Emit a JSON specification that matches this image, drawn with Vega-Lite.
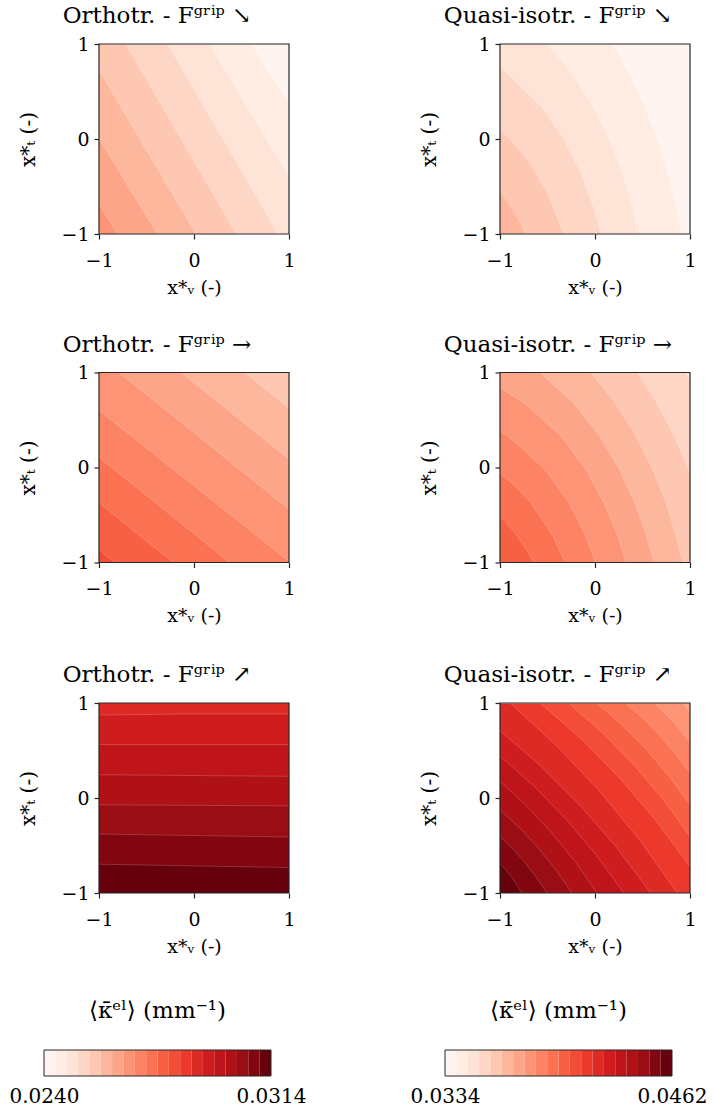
{
"$schema": "https://vega.github.io/schema/vega-lite/v6.json",
"background": "white",
"padding": {"left": 9, "top": 5, "right": 0, "bottom": 0},
"config": {
  "font": "DejaVu Serif",
  "view": {"stroke": null},
  "axis": {"labelFont": "DejaVu Serif", "titleFont": "DejaVu Serif", "labelFontSize": 19, "titleFontSize": 19, "titleFontWeight": "normal", "labelColor": "#000", "titleColor": "#000", "tickColor": "#262626", "tickSize": 5, "tickWidth": 1.2, "domain": false, "grid": false, "labelFlush": false, "labelOverlap": false},
  "axisX": {"labelPadding": 12, "titlePadding": 8},
  "axisY": {"labelPadding": 5, "titlePadding": 22, "titleFontSize": 20},
  "title": {"font": "DejaVu Serif", "fontSize": 23, "fontWeight": "normal", "color": "#000", "offset": 7},
  "line": {"strokeCap": "butt"}
},
"datasets": {
"cont": [
{"p":"o1","b":0,"x":-1,"y":1},{"p":"o1","b":0,"x":1,"y":1},
{"p":"o1","b":1,"x":-1,"y":1},{"p":"o1","b":1,"x":0.602,"y":1},{"p":"o1","b":1,"x":1,"y":0.371},
{"p":"o1","b":2,"x":-1,"y":1},{"p":"o1","b":2,"x":0.162,"y":1},{"p":"o1","b":2,"x":1,"y":-0.406},
{"p":"o1","b":3,"x":-1,"y":1},{"p":"o1","b":3,"x":-0.278,"y":1},{"p":"o1","b":3,"x":0.884,"y":-1},
{"p":"o1","b":4,"x":-1,"y":1},{"p":"o1","b":4,"x":-0.718,"y":1},{"p":"o1","b":4,"x":0.444,"y":-1},
{"p":"o1","b":5,"x":-1,"y":0.724},{"p":"o1","b":5,"x":0.021,"y":-1},
{"p":"o1","b":6,"x":-1,"y":0.0},{"p":"o1","b":6,"x":-0.384,"y":-1},
{"p":"o1","b":7,"x":-1,"y":-0.689},{"p":"o1","b":7,"x":-0.806,"y":-1},

{"p":"o2","b":4,"x":-1,"y":1},{"p":"o2","b":4,"x":1,"y":1},
{"p":"o2","b":5,"x":-1,"y":1},{"p":"o2","b":5,"x":0.532,"y":1},{"p":"o2","b":5,"x":1,"y":0.625},
{"p":"o2","b":6,"x":-1,"y":1},{"p":"o2","b":6,"x":-0.137,"y":1},{"p":"o2","b":6,"x":1,"y":0.088},
{"p":"o2","b":7,"x":-1,"y":1},{"p":"o2","b":7,"x":-0.789,"y":1},{"p":"o2","b":7,"x":1,"y":-0.442},
{"p":"o2","b":8,"x":-1,"y":0.601},{"p":"o2","b":8,"x":1,"y":-0.989},
{"p":"o2","b":9,"x":-1,"y":0.106},{"p":"o2","b":9,"x":0.377,"y":-1},
{"p":"o2","b":10,"x":-1,"y":-0.371},{"p":"o2","b":10,"x":-0.218,"y":-1},
{"p":"o2","b":11,"x":-1,"y":-0.866},{"p":"o2","b":11,"x":-0.835,"y":-1},

{"p":"o3","b":13,"x":-1,"y":1},{"p":"o3","b":13,"x":1,"y":1},
{"p":"o3","b":14,"x":-1,"y":0.873},{"p":"o3","b":14,"x":0,"y":0.885},{"p":"o3","b":14,"x":1,"y":0.884},
{"p":"o3","b":15,"x":-1,"y":0.563},{"p":"o3","b":15,"x":1,"y":0.563},
{"p":"o3","b":16,"x":-1,"y":0.245},{"p":"o3","b":16,"x":1,"y":0.228},
{"p":"o3","b":17,"x":-1,"y":-0.072},{"p":"o3","b":17,"x":1,"y":-0.083},
{"p":"o3","b":18,"x":-1,"y":-0.379},{"p":"o3","b":18,"x":1,"y":-0.411},
{"p":"o3","b":19,"x":-1,"y":-0.697},{"p":"o3","b":19,"x":0,"y":-0.715},{"p":"o3","b":19,"x":1,"y":-0.732},

{"p":"q1","b":0,"x":-1,"y":1},{"p":"q1","b":0,"x":1,"y":1},
{"p":"q1","b":1,"x":-1,"y":1},{"p":"q1","b":1,"x":0.183,"y":1},{"p":"q1","b":1,"x":0.361,"y":0.689},{"p":"q1","b":1,"x":0.527,"y":0.336},{"p":"q1","b":1,"x":0.662,"y":-0.018},{"p":"q1","b":1,"x":0.770,"y":-0.371},{"p":"q1","b":1,"x":0.856,"y":-0.724},{"p":"q1","b":1,"x":0.907,"y":-1},
{"p":"q1","b":2,"x":-1,"y":1},{"p":"q1","b":2,"x":-0.506,"y":1},{"p":"q1","b":2,"x":-0.243,"y":0.689},{"p":"q1","b":2,"x":-0.018,"y":0.336},{"p":"q1","b":2,"x":0.156,"y":-0.018},{"p":"q1","b":2,"x":0.292,"y":-0.371},{"p":"q1","b":2,"x":0.396,"y":-0.724},{"p":"q1","b":2,"x":0.459,"y":-1},
{"p":"q1","b":3,"x":-1,"y":0.740},{"p":"q1","b":3,"x":-0.927,"y":0.689},{"p":"q1","b":3,"x":-0.563,"y":0.336},{"p":"q1","b":3,"x":-0.320,"y":-0.018},{"p":"q1","b":3,"x":-0.144,"y":-0.371},{"p":"q1","b":3,"x":-0.013,"y":-0.724},{"p":"q1","b":3,"x":0.064,"y":-1},
{"p":"q1","b":4,"x":-1,"y":0.094},{"p":"q1","b":4,"x":-0.882,"y":-0.018},{"p":"q1","b":4,"x":-0.733,"y":-0.194},{"p":"q1","b":4,"x":-0.614,"y":-0.371},{"p":"q1","b":4,"x":-0.516,"y":-0.548},{"p":"q1","b":4,"x":-0.435,"y":-0.724},{"p":"q1","b":4,"x":-0.335,"y":-1},
{"p":"q1","b":5,"x":-1,"y":-0.555},{"p":"q1","b":5,"x":-0.937,"y":-0.636},{"p":"q1","b":5,"x":-0.877,"y":-0.724},{"p":"q1","b":5,"x":-0.796,"y":-0.866},{"p":"q1","b":5,"x":-0.732,"y":-1},

{"p":"q2","b":2,"x":-1,"y":1},{"p":"q2","b":2,"x":1,"y":1},
{"p":"q2","b":3,"x":-1,"y":1},{"p":"q2","b":3,"x":0.953,"y":1},{"p":"q2","b":3,"x":1,"y":0.916},
{"p":"q2","b":4,"x":-1,"y":1},{"p":"q2","b":4,"x":0.444,"y":1},{"p":"q2","b":4,"x":0.644,"y":0.689},{"p":"q2","b":4,"x":0.831,"y":0.336},{"p":"q2","b":4,"x":0.982,"y":-0.018},{"p":"q2","b":4,"x":1,"y":-0.065},
{"p":"q2","b":5,"x":-1,"y":1},{"p":"q2","b":5,"x":-0.047,"y":1},{"p":"q2","b":5,"x":0.204,"y":0.689},{"p":"q2","b":5,"x":0.429,"y":0.336},{"p":"q2","b":5,"x":0.606,"y":-0.018},{"p":"q2","b":5,"x":0.746,"y":-0.371},{"p":"q2","b":5,"x":0.855,"y":-0.724},{"p":"q2","b":5,"x":0.921,"y":-1},
{"p":"q2","b":6,"x":-1,"y":1},{"p":"q2","b":6,"x":-0.581,"y":1},{"p":"q2","b":6,"x":-0.237,"y":0.689},{"p":"q2","b":6,"x":0.044,"y":0.336},{"p":"q2","b":6,"x":0.256,"y":-0.018},{"p":"q2","b":6,"x":0.419,"y":-0.371},{"p":"q2","b":6,"x":0.544,"y":-0.724},{"p":"q2","b":6,"x":0.618,"y":-1},
{"p":"q2","b":7,"x":-1,"y":0.836},{"p":"q2","b":7,"x":-0.757,"y":0.689},{"p":"q2","b":7,"x":-0.365,"y":0.336},{"p":"q2","b":7,"x":-0.100,"y":-0.018},{"p":"q2","b":7,"x":0.095,"y":-0.371},{"p":"q2","b":7,"x":0.240,"y":-0.724},{"p":"q2","b":7,"x":0.326,"y":-1},
{"p":"q2","b":8,"x":-1,"y":0.384},{"p":"q2","b":8,"x":-0.923,"y":0.336},{"p":"q2","b":8,"x":-0.529,"y":-0.018},{"p":"q2","b":8,"x":-0.275,"y":-0.371},{"p":"q2","b":8,"x":-0.097,"y":-0.724},{"p":"q2","b":8,"x":0.005,"y":-1},
{"p":"q2","b":9,"x":-1,"y":-0.063},{"p":"q2","b":9,"x":-0.841,"y":-0.194},{"p":"q2","b":9,"x":-0.676,"y":-0.371},{"p":"q2","b":9,"x":-0.442,"y":-0.724},{"p":"q2","b":9,"x":-0.314,"y":-1},
{"p":"q2","b":10,"x":-1,"y":-0.519},{"p":"q2","b":10,"x":-0.903,"y":-0.618},{"p":"q2","b":10,"x":-0.816,"y":-0.724},{"p":"q2","b":10,"x":-0.720,"y":-0.866},{"p":"q2","b":10,"x":-0.644,"y":-1},

{"p":"q3","b":6,"x":-1,"y":1},{"p":"q3","b":6,"x":1,"y":1},
{"p":"q3","b":7,"x":-1,"y":1},{"p":"q3","b":7,"x":0.919,"y":1},{"p":"q3","b":7,"x":1,"y":0.908},
{"p":"q3","b":8,"x":-1,"y":1},{"p":"q3","b":8,"x":0.620,"y":1},{"p":"q3","b":8,"x":0.825,"y":0.806},{"p":"q3","b":8,"x":1,"y":0.583},
{"p":"q3","b":9,"x":-1,"y":1},{"p":"q3","b":9,"x":0.320,"y":1},{"p":"q3","b":9,"x":0.509,"y":0.833},{"p":"q3","b":9,"x":0.685,"y":0.654},{"p":"q3","b":9,"x":0.849,"y":0.462},{"p":"q3","b":9,"x":1,"y":0.258},
{"p":"q3","b":10,"x":-1,"y":1},{"p":"q3","b":10,"x":0.021,"y":1},{"p":"q3","b":10,"x":0.294,"y":0.760},{"p":"q3","b":10,"x":0.548,"y":0.502},{"p":"q3","b":10,"x":0.783,"y":0.225},{"p":"q3","b":10,"x":1,"y":-0.071},
{"p":"q3","b":11,"x":-1,"y":1},{"p":"q3","b":11,"x":-0.278,"y":1},{"p":"q3","b":11,"x":0.079,"y":0.686},{"p":"q3","b":11,"x":0.411,"y":0.347},{"p":"q3","b":11,"x":0.718,"y":-0.017},{"p":"q3","b":11,"x":1,"y":-0.406},
{"p":"q3","b":12,"x":-1,"y":1},{"p":"q3","b":12,"x":-0.577,"y":1},{"p":"q3","b":12,"x":-0.138,"y":0.614},{"p":"q3","b":12,"x":0.271,"y":0.198},{"p":"q3","b":12,"x":0.650,"y":-0.248},{"p":"q3","b":12,"x":1,"y":-0.724},
{"p":"q3","b":13,"x":-1,"y":1},{"p":"q3","b":13,"x":-0.894,"y":1},{"p":"q3","b":13,"x":-0.404,"y":0.551},{"p":"q3","b":13,"x":0.053,"y":0.067},{"p":"q3","b":13,"x":0.476,"y":-0.449},{"p":"q3","b":13,"x":0.866,"y":-1},
{"p":"q3","b":14,"x":-1,"y":0.707},{"p":"q3","b":14,"x":-0.559,"y":0.325},{"p":"q3","b":14,"x":-0.148,"y":-0.087},{"p":"q3","b":14,"x":0.233,"y":-0.528},{"p":"q3","b":14,"x":0.585,"y":-1},
{"p":"q3","b":15,"x":-1,"y":0.442},{"p":"q3","b":15,"x":-0.637,"y":0.119},{"p":"q3","b":15,"x":-0.299,"y":-0.229},{"p":"q3","b":15,"x":0.014,"y":-0.602},{"p":"q3","b":15,"x":0.303,"y":-1},
{"p":"q3","b":16,"x":-1,"y":0.177},{"p":"q3","b":16,"x":-0.715,"y":-0.088},{"p":"q3","b":16,"x":-0.450,"y":-0.372},{"p":"q3","b":16,"x":-0.204,"y":-0.676},{"p":"q3","b":16,"x":0.021,"y":-1},
{"p":"q3","b":17,"x":-1,"y":-0.124},{"p":"q3","b":17,"x":-0.788,"y":-0.320},{"p":"q3","b":17,"x":-0.592,"y":-0.532},{"p":"q3","b":17,"x":-0.410,"y":-0.758},{"p":"q3","b":17,"x":-0.243,"y":-1},
{"p":"q3","b":18,"x":-1,"y":-0.406},{"p":"q3","b":18,"x":-0.862,"y":-0.540},{"p":"q3","b":18,"x":-0.733,"y":-0.683},{"p":"q3","b":18,"x":-0.615,"y":-0.837},{"p":"q3","b":18,"x":-0.507,"y":-1},
{"p":"q3","b":19,"x":-1,"y":-0.689},{"p":"q3","b":19,"x":-0.935,"y":-0.759},{"p":"q3","b":19,"x":-0.876,"y":-0.835},{"p":"q3","b":19,"x":-0.821,"y":-0.915},{"p":"q3","b":19,"x":-0.771,"y":-1}
],
"cbar": [
{"cb":"L","b":0,"lo":0.02400,"hi":0.02437},{"cb":"L","b":1,"lo":0.02437,"hi":0.02474},{"cb":"L","b":2,"lo":0.02474,"hi":0.02511},{"cb":"L","b":3,"lo":0.02511,"hi":0.02548},{"cb":"L","b":4,"lo":0.02548,"hi":0.02585},{"cb":"L","b":5,"lo":0.02585,"hi":0.02622},{"cb":"L","b":6,"lo":0.02622,"hi":0.02659},{"cb":"L","b":7,"lo":0.02659,"hi":0.02696},{"cb":"L","b":8,"lo":0.02696,"hi":0.02733},{"cb":"L","b":9,"lo":0.02733,"hi":0.02770},{"cb":"L","b":10,"lo":0.02770,"hi":0.02807},{"cb":"L","b":11,"lo":0.02807,"hi":0.02844},{"cb":"L","b":12,"lo":0.02844,"hi":0.02881},{"cb":"L","b":13,"lo":0.02881,"hi":0.02918},{"cb":"L","b":14,"lo":0.02918,"hi":0.02955},{"cb":"L","b":15,"lo":0.02955,"hi":0.02992},{"cb":"L","b":16,"lo":0.02992,"hi":0.03029},{"cb":"L","b":17,"lo":0.03029,"hi":0.03066},{"cb":"L","b":18,"lo":0.03066,"hi":0.03103},{"cb":"L","b":19,"lo":0.03103,"hi":0.03140},
{"cb":"R","b":0,"lo":0.03340,"hi":0.03404},{"cb":"R","b":1,"lo":0.03404,"hi":0.03468},{"cb":"R","b":2,"lo":0.03468,"hi":0.03532},{"cb":"R","b":3,"lo":0.03532,"hi":0.03596},{"cb":"R","b":4,"lo":0.03596,"hi":0.03660},{"cb":"R","b":5,"lo":0.03660,"hi":0.03724},{"cb":"R","b":6,"lo":0.03724,"hi":0.03788},{"cb":"R","b":7,"lo":0.03788,"hi":0.03852},{"cb":"R","b":8,"lo":0.03852,"hi":0.03916},{"cb":"R","b":9,"lo":0.03916,"hi":0.03980},{"cb":"R","b":10,"lo":0.03980,"hi":0.04044},{"cb":"R","b":11,"lo":0.04044,"hi":0.04108},{"cb":"R","b":12,"lo":0.04108,"hi":0.04172},{"cb":"R","b":13,"lo":0.04172,"hi":0.04236},{"cb":"R","b":14,"lo":0.04236,"hi":0.04300},{"cb":"R","b":15,"lo":0.04300,"hi":0.04364},{"cb":"R","b":16,"lo":0.04364,"hi":0.04428},{"cb":"R","b":17,"lo":0.04428,"hi":0.04492},{"cb":"R","b":18,"lo":0.04492,"hi":0.04556},{"cb":"R","b":19,"lo":0.04556,"hi":0.04620}
]
},
"spacing": 43,
"vconcat": [
{"spacing": 36.5, "vconcat": [
{"spacing": 123, "hconcat": [
 {"width":190,"height":190,"title":{"text":"Orthotr. - Fᵍʳⁱᵖ ↘","dx":-37},"data":{"name":"cont"},"transform":[{"filter":"datum.p == 'o1'"}],
  "layer":[
   {"mark":{"type":"area","interpolate":"linear"},"encoding":{
     "x":{"field":"x","type":"quantitative","scale":{"domain":[-1,1],"nice":false,"zero":false},"axis":{"values":[-1,0,1],"format":".0f","title":"x*ᵥ (-)"}},
     "y":{"field":"y","type":"quantitative","scale":{"domain":[-1,1],"nice":false,"zero":false},"axis":{"values":[-1,0,1],"format":".0f","title":"x*ₜ (-)"}},
     "y2":{"datum":-1},
     "color":{"field":"b","type":"ordinal","legend":null,"scale":{"domain":[0,1,2,3,4,5,6,7,8,9,10,11,12,13,14,15,16,17,18,19],"range":["#fff5f0","#ffece3","#fee3d7","#fdd6c5","#fdc7b1","#fcb79c","#fca588","#fc9475","#fc8363","#fb7252","#f86044","#f34c37","#ed392b","#de2a25","#cf1c1f","#bf151a","#af1117","#9b0d14","#810610","#67000d"]}}}},
   {"transform":[{"filter":"datum.b > 0"}],"mark":{"type":"line","stroke":"white","strokeWidth":0.6,"opacity":0.3},"encoding":{"x":{"field":"x","type":"quantitative"},"y":{"field":"y","type":"quantitative"},"detail":{"field":"b","type":"ordinal"}}},
   {"data":{"values":[{}]},"mark":{"type":"rect","fill":null,"stroke":"#262626","strokeWidth":1.2},"encoding":{"x":{"datum":-1},"x2":{"datum":1},"y":{"datum":-1},"y2":{"datum":1}}}
  ]},
 {"width":190,"height":190,"title":{"text":"Quasi-isotr. - Fᵍʳⁱᵖ ↘","dx":-37},"data":{"name":"cont"},"transform":[{"filter":"datum.p == 'q1'"}],
  "layer":[
   {"mark":{"type":"area","interpolate":"linear"},"encoding":{
     "x":{"field":"x","type":"quantitative","scale":{"domain":[-1,1],"nice":false,"zero":false},"axis":{"values":[-1,0,1],"format":".0f","title":"x*ᵥ (-)"}},
     "y":{"field":"y","type":"quantitative","scale":{"domain":[-1,1],"nice":false,"zero":false},"axis":{"values":[-1,0,1],"format":".0f","title":"x*ₜ (-)"}},
     "y2":{"datum":-1},
     "color":{"field":"b","type":"ordinal","legend":null,"scale":{"domain":[0,1,2,3,4,5,6,7,8,9,10,11,12,13,14,15,16,17,18,19],"range":["#fff5f0","#ffece3","#fee3d7","#fdd6c5","#fdc7b1","#fcb79c","#fca588","#fc9475","#fc8363","#fb7252","#f86044","#f34c37","#ed392b","#de2a25","#cf1c1f","#bf151a","#af1117","#9b0d14","#810610","#67000d"]}}}},
   {"transform":[{"filter":"datum.b > 0"}],"mark":{"type":"line","stroke":"white","strokeWidth":0.6,"opacity":0.3},"encoding":{"x":{"field":"x","type":"quantitative"},"y":{"field":"y","type":"quantitative"},"detail":{"field":"b","type":"ordinal"}}},
   {"data":{"values":[{}]},"mark":{"type":"rect","fill":null,"stroke":"#262626","strokeWidth":1.2},"encoding":{"x":{"datum":-1},"x2":{"datum":1},"y":{"datum":-1},"y2":{"datum":1}}}
  ]}
]},
{"spacing": 38.5, "vconcat": [
{"spacing": 123, "hconcat": [
 {"width":190,"height":190,"title":{"text":"Orthotr. - Fᵍʳⁱᵖ →","dx":-37},"data":{"name":"cont"},"transform":[{"filter":"datum.p == 'o2'"}],
  "layer":[
   {"mark":{"type":"area","interpolate":"linear"},"encoding":{
     "x":{"field":"x","type":"quantitative","scale":{"domain":[-1,1],"nice":false,"zero":false},"axis":{"values":[-1,0,1],"format":".0f","title":"x*ᵥ (-)"}},
     "y":{"field":"y","type":"quantitative","scale":{"domain":[-1,1],"nice":false,"zero":false},"axis":{"values":[-1,0,1],"format":".0f","title":"x*ₜ (-)"}},
     "y2":{"datum":-1},
     "color":{"field":"b","type":"ordinal","legend":null,"scale":{"domain":[0,1,2,3,4,5,6,7,8,9,10,11,12,13,14,15,16,17,18,19],"range":["#fff5f0","#ffece3","#fee3d7","#fdd6c5","#fdc7b1","#fcb79c","#fca588","#fc9475","#fc8363","#fb7252","#f86044","#f34c37","#ed392b","#de2a25","#cf1c1f","#bf151a","#af1117","#9b0d14","#810610","#67000d"]}}}},
   {"transform":[{"filter":"datum.b > 0"}],"mark":{"type":"line","stroke":"white","strokeWidth":0.6,"opacity":0.3},"encoding":{"x":{"field":"x","type":"quantitative"},"y":{"field":"y","type":"quantitative"},"detail":{"field":"b","type":"ordinal"}}},
   {"data":{"values":[{}]},"mark":{"type":"rect","fill":null,"stroke":"#262626","strokeWidth":1.2},"encoding":{"x":{"datum":-1},"x2":{"datum":1},"y":{"datum":-1},"y2":{"datum":1}}}
  ]},
 {"width":190,"height":190,"title":{"text":"Quasi-isotr. - Fᵍʳⁱᵖ →","dx":-37},"data":{"name":"cont"},"transform":[{"filter":"datum.p == 'q2'"}],
  "layer":[
   {"mark":{"type":"area","interpolate":"linear"},"encoding":{
     "x":{"field":"x","type":"quantitative","scale":{"domain":[-1,1],"nice":false,"zero":false},"axis":{"values":[-1,0,1],"format":".0f","title":"x*ᵥ (-)"}},
     "y":{"field":"y","type":"quantitative","scale":{"domain":[-1,1],"nice":false,"zero":false},"axis":{"values":[-1,0,1],"format":".0f","title":"x*ₜ (-)"}},
     "y2":{"datum":-1},
     "color":{"field":"b","type":"ordinal","legend":null,"scale":{"domain":[0,1,2,3,4,5,6,7,8,9,10,11,12,13,14,15,16,17,18,19],"range":["#fff5f0","#ffece3","#fee3d7","#fdd6c5","#fdc7b1","#fcb79c","#fca588","#fc9475","#fc8363","#fb7252","#f86044","#f34c37","#ed392b","#de2a25","#cf1c1f","#bf151a","#af1117","#9b0d14","#810610","#67000d"]}}}},
   {"transform":[{"filter":"datum.b > 0"}],"mark":{"type":"line","stroke":"white","strokeWidth":0.6,"opacity":0.3},"encoding":{"x":{"field":"x","type":"quantitative"},"y":{"field":"y","type":"quantitative"},"detail":{"field":"b","type":"ordinal"}}},
   {"data":{"values":[{}]},"mark":{"type":"rect","fill":null,"stroke":"#262626","strokeWidth":1.2},"encoding":{"x":{"datum":-1},"x2":{"datum":1},"y":{"datum":-1},"y2":{"datum":1}}}
  ]}
]},
{"spacing": 123, "hconcat": [
 {"width":190,"height":190,"title":{"text":"Orthotr. - Fᵍʳⁱᵖ ↗","dx":-37},"data":{"name":"cont"},"transform":[{"filter":"datum.p == 'o3'"}],
  "layer":[
   {"mark":{"type":"area","interpolate":"linear"},"encoding":{
     "x":{"field":"x","type":"quantitative","scale":{"domain":[-1,1],"nice":false,"zero":false},"axis":{"values":[-1,0,1],"format":".0f","title":"x*ᵥ (-)"}},
     "y":{"field":"y","type":"quantitative","scale":{"domain":[-1,1],"nice":false,"zero":false},"axis":{"values":[-1,0,1],"format":".0f","title":"x*ₜ (-)"}},
     "y2":{"datum":-1},
     "color":{"field":"b","type":"ordinal","legend":null,"scale":{"domain":[0,1,2,3,4,5,6,7,8,9,10,11,12,13,14,15,16,17,18,19],"range":["#fff5f0","#ffece3","#fee3d7","#fdd6c5","#fdc7b1","#fcb79c","#fca588","#fc9475","#fc8363","#fb7252","#f86044","#f34c37","#ed392b","#de2a25","#cf1c1f","#bf151a","#af1117","#9b0d14","#810610","#67000d"]}}}},
   {"transform":[{"filter":"datum.b > 0"}],"mark":{"type":"line","stroke":"white","strokeWidth":0.6,"opacity":0.3},"encoding":{"x":{"field":"x","type":"quantitative"},"y":{"field":"y","type":"quantitative"},"detail":{"field":"b","type":"ordinal"}}},
   {"data":{"values":[{}]},"mark":{"type":"rect","fill":null,"stroke":"#262626","strokeWidth":1.2},"encoding":{"x":{"datum":-1},"x2":{"datum":1},"y":{"datum":-1},"y2":{"datum":1}}}
  ]},
 {"width":190,"height":190,"title":{"text":"Quasi-isotr. - Fᵍʳⁱᵖ ↗","dx":-37},"data":{"name":"cont"},"transform":[{"filter":"datum.p == 'q3'"}],
  "layer":[
   {"mark":{"type":"area","interpolate":"linear"},"encoding":{
     "x":{"field":"x","type":"quantitative","scale":{"domain":[-1,1],"nice":false,"zero":false},"axis":{"values":[-1,0,1],"format":".0f","title":"x*ᵥ (-)"}},
     "y":{"field":"y","type":"quantitative","scale":{"domain":[-1,1],"nice":false,"zero":false},"axis":{"values":[-1,0,1],"format":".0f","title":"x*ₜ (-)"}},
     "y2":{"datum":-1},
     "color":{"field":"b","type":"ordinal","legend":null,"scale":{"domain":[0,1,2,3,4,5,6,7,8,9,10,11,12,13,14,15,16,17,18,19],"range":["#fff5f0","#ffece3","#fee3d7","#fdd6c5","#fdc7b1","#fcb79c","#fca588","#fc9475","#fc8363","#fb7252","#f86044","#f34c37","#ed392b","#de2a25","#cf1c1f","#bf151a","#af1117","#9b0d14","#810610","#67000d"]}}}},
   {"transform":[{"filter":"datum.b > 0"}],"mark":{"type":"line","stroke":"white","strokeWidth":0.6,"opacity":0.3},"encoding":{"x":{"field":"x","type":"quantitative"},"y":{"field":"y","type":"quantitative"},"detail":{"field":"b","type":"ordinal"}}},
   {"data":{"values":[{}]},"mark":{"type":"rect","fill":null,"stroke":"#262626","strokeWidth":1.2},"encoding":{"x":{"datum":-1},"x2":{"datum":1},"y":{"datum":-1},"y2":{"datum":1}}}
  ]}
]}
]}
]},
{"spacing": 84, "hconcat": [
 {"width":227,"height":26,"title":{"text":"⟨κ̄ᵉˡ⟩ (mm⁻¹)","offset":27,"dx":-55},"data":{"name":"cbar"},"transform":[{"filter":"datum.cb == 'L'"}],
  "layer":[
   {"mark":"rect","encoding":{
     "x":{"field":"lo","type":"quantitative","scale":{"domain":[0.024,0.0314],"range":[-55,172],"nice":false,"zero":false},"axis":{"values":[0.024,0.0314],"format":".4f","title":null,"ticks":false,"labelPadding":10,"labelFontSize":20}},
     "x2":{"field":"hi"},
     "color":{"field":"b","type":"ordinal","legend":null,"scale":{"domain":[0,1,2,3,4,5,6,7,8,9,10,11,12,13,14,15,16,17,18,19],"range":["#fff5f0","#ffece3","#fee3d7","#fdd6c5","#fdc7b1","#fcb79c","#fca588","#fc9475","#fc8363","#fb7252","#f86044","#f34c37","#ed392b","#de2a25","#cf1c1f","#bf151a","#af1117","#9b0d14","#810610","#67000d"]}}}},
   {"data":{"values":[{}]},"mark":{"type":"rect","fill":null,"stroke":"#262626","strokeWidth":1},"encoding":{"x":{"datum":0.024},"x2":{"datum":0.0314}}}
  ]},
 {"width":227,"height":26,"title":{"text":"⟨κ̄ᵉˡ⟩ (mm⁻¹)","offset":27,"dx":-55},"data":{"name":"cbar"},"transform":[{"filter":"datum.cb == 'R'"}],
  "layer":[
   {"mark":"rect","encoding":{
     "x":{"field":"lo","type":"quantitative","scale":{"domain":[0.0334,0.0462],"range":[-55,172],"nice":false,"zero":false},"axis":{"values":[0.0334,0.0462],"format":".4f","title":null,"ticks":false,"labelPadding":10,"labelFontSize":20}},
     "x2":{"field":"hi"},
     "color":{"field":"b","type":"ordinal","legend":null,"scale":{"domain":[0,1,2,3,4,5,6,7,8,9,10,11,12,13,14,15,16,17,18,19],"range":["#fff5f0","#ffece3","#fee3d7","#fdd6c5","#fdc7b1","#fcb79c","#fca588","#fc9475","#fc8363","#fb7252","#f86044","#f34c37","#ed392b","#de2a25","#cf1c1f","#bf151a","#af1117","#9b0d14","#810610","#67000d"]}}}},
   {"data":{"values":[{}]},"mark":{"type":"rect","fill":null,"stroke":"#262626","strokeWidth":1},"encoding":{"x":{"datum":0.0334},"x2":{"datum":0.0462}}}
  ]}
]}
]
}
